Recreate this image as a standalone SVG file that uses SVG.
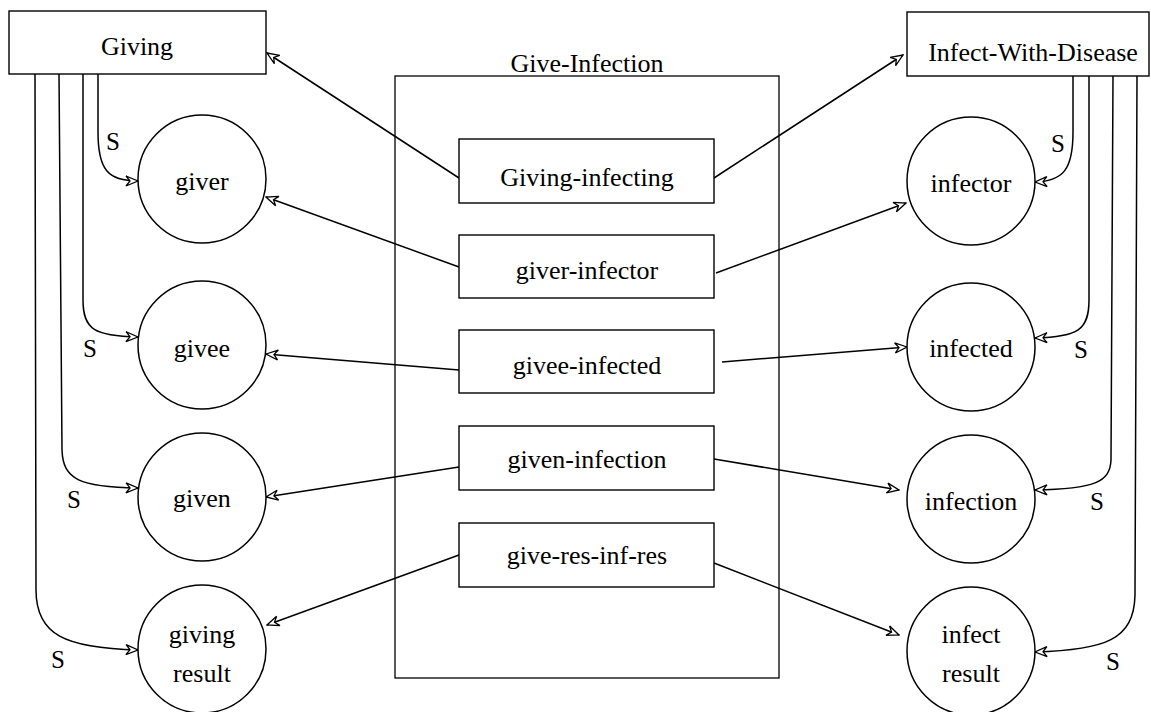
<svg xmlns="http://www.w3.org/2000/svg" width="1151" height="712" viewBox="0 0 1151 712">
<style>
.box{fill:#fff;stroke:#000;stroke-width:1.4}
.frame{fill:none;stroke:#000;stroke-width:1.3}
.circ{fill:#fff;stroke:#000;stroke-width:1.5}
.t{font-family:"Liberation Serif","Times New Roman",serif;font-size:26px;fill:#000;text-anchor:middle}
.s{font-family:"Liberation Serif","Times New Roman",serif;font-size:25px;fill:#000;text-anchor:middle}
.c{fill:none;stroke:#000;stroke-width:1.5;marker-end:url(#ah)}
</style>
<defs>
<marker id="ah" markerUnits="userSpaceOnUse" viewBox="0 0 14 12" refX="13" refY="6" markerWidth="14" markerHeight="12" orient="auto">
<path d="M1,1 L13,6 L1,11 L5,6 Z" fill="#fff" stroke="#000" stroke-width="1.3" stroke-linejoin="miter"/>
</marker>
</defs>
<rect width="1151" height="712" fill="#fff"/>

<g id="give-infection">
<rect class="frame" x="395" y="76" width="384" height="602"/>
<text class="t" x="587" y="72">Give-Infection</text>
</g>

<g id="connectors">
<path class="c" d="M459,178 L267,53"/>
<path class="c" d="M714,178 L903,55"/>
<path class="c" d="M459,267 L266,197"/>
<path class="c" d="M716,273 L906,203"/>
<path class="c" d="M459,370 L266,354"/>
<path class="c" d="M722,362 L907,347"/>
<path class="c" d="M459,467 L266,497"/>
<path class="c" d="M714,459 L899,490"/>
<path class="c" d="M459,555 L267,625"/>
<path class="c" d="M714,563 L899,635"/>

<path class="c" d="M98,74 L98,132 C98,170 108,181 138,181"/>
<path class="c" d="M83,74 L83,300 C83,330 95,336 138,337"/>
<path class="c" d="M59,74 L62,450 C63,480 80,487 138,488"/>
<path class="c" d="M35,74 L36,590 C36,635 65,648 138,650"/>

<path class="c" d="M1073,76 L1073,132 C1073,170 1063,181 1035,182"/>
<path class="c" d="M1089,76 L1089,300 C1089,330 1078,337 1035,338"/>
<path class="c" d="M1113,76 L1111,460 C1110,482 1095,489 1035,490"/>
<path class="c" d="M1137,76 L1135,595 C1134,640 1105,650 1035,652"/>
<text class="s" x="113" y="150">S</text>
<text class="s" x="90" y="357">S</text>
<text class="s" x="74" y="508">S</text>
<text class="s" x="58" y="668">S</text>
<text class="s" x="1058" y="152">S</text>
<text class="s" x="1081" y="358">S</text>
<text class="s" x="1097" y="510">S</text>
<text class="s" x="1113" y="670">S</text>
</g>

<g id="giving">
<rect class="box" x="9" y="11" width="257" height="63"/>
<text class="t" x="137" y="55">Giving</text>
</g>
<g id="infect-with-disease">
<rect class="box" x="907" y="12" width="242" height="64"/>
<text class="t" x="1033" y="61">Infect-With-Disease</text>
</g>

<g id="giving-infecting">
<rect class="box" x="459" y="139" width="255" height="64"/>
<text class="t" x="587" y="186">Giving-infecting</text>
</g>
<g id="giver-infector">
<rect class="box" x="459" y="235" width="255" height="63"/>
<text class="t" x="587" y="279">giver-infector</text>
</g>
<g id="givee-infected">
<rect class="box" x="459" y="330" width="255" height="63"/>
<text class="t" x="587" y="374">givee-infected</text>
</g>
<g id="given-infection">
<rect class="box" x="459" y="426" width="255" height="64"/>
<text class="t" x="587" y="468">given-infection</text>
</g>
<g id="give-res-inf-res">
<rect class="box" x="459" y="523" width="255" height="64"/>
<text class="t" x="587" y="564">give-res-inf-res</text>
</g>

<g id="giver">
<circle class="circ" cx="202" cy="179" r="64"/>
<text class="t" x="202" y="190">giver</text>
</g>
<g id="givee">
<circle class="circ" cx="202" cy="345" r="64"/>
<text class="t" x="202" y="357">givee</text>
</g>
<g id="given">
<circle class="circ" cx="202" cy="497" r="64"/>
<text class="t" x="202" y="507">given</text>
</g>
<g id="giving-result">
<circle class="circ" cx="202" cy="649" r="64"/>
<text class="t" x="202" y="643">giving</text>
<text class="t" x="202" y="682">result</text>
</g>

<g id="infector">
<circle class="circ" cx="971" cy="181" r="64"/>
<text class="t" x="971" y="192">infector</text>
</g>
<g id="infected">
<circle class="circ" cx="971" cy="347" r="64"/>
<text class="t" x="971" y="357">infected</text>
</g>
<g id="infection">
<circle class="circ" cx="971" cy="499" r="64"/>
<text class="t" x="971" y="510">infection</text>
</g>
<g id="infect-result">
<circle class="circ" cx="971" cy="651" r="64"/>
<text class="t" x="971" y="643">infect</text>
<text class="t" x="971" y="682">result</text>
</g>
</svg>
